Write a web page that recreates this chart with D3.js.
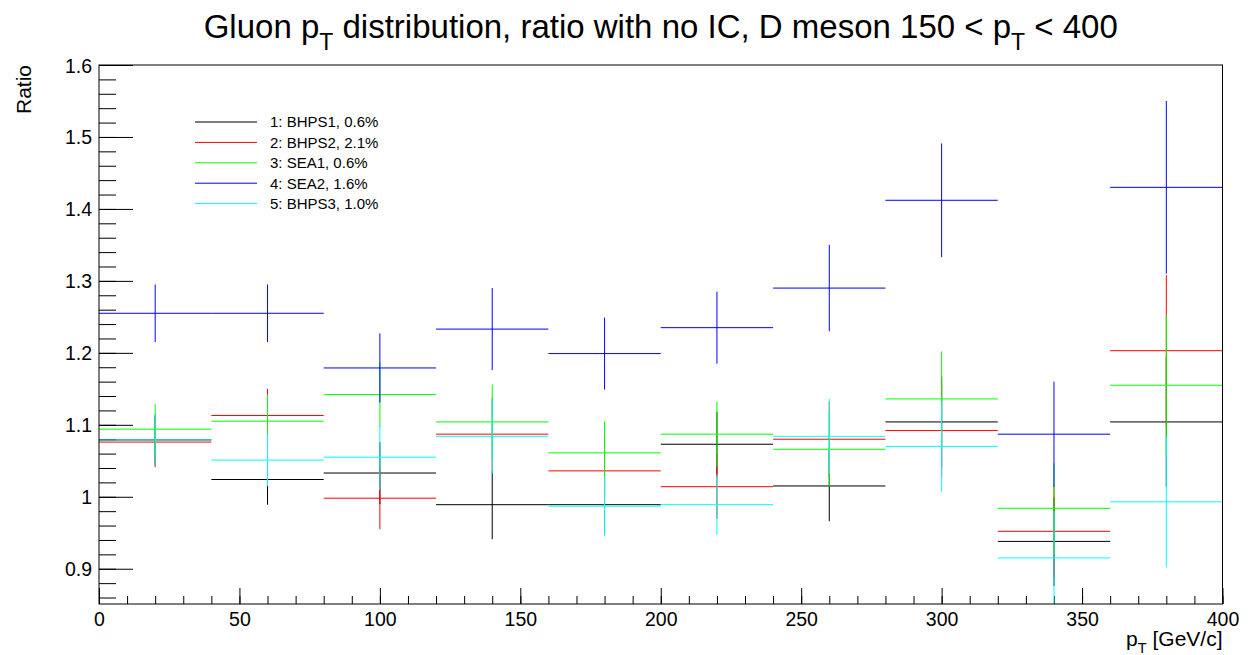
<!DOCTYPE html>
<html>
<head>
<meta charset="utf-8">
<script src="https://cdn.jsdelivr.net/npm/d3@7"></script>
<style>
  html, body { margin: 0; padding: 0; background: #fff; }
  svg { display: block; font-family: "Liberation Sans", Arial, Helvetica, sans-serif; }
</style>
</head>
<body>
<svg id="chart" width="1248" height="655"></svg>
<script>
// Bin edges in pT [GeV/c]
const ptEdges = [0, 40, 80, 120, 160, 200, 240, 280, 320, 360, 400];

// Ratio to the no-IC prediction per bin, with statistical errors
const ratioBHPS1 = [1.079, 1.024, 1.033, 0.989, 0.989, 1.073, 1.015, 1.104, 0.938, 1.104];
const errBHPS1   = [0.035, 0.035, 0.043, 0.048, 0.042, 0.045, 0.049, 0.063, 0.062, 0.090];

const ratioBHPS2 = [1.076, 1.113, 0.998, 1.087, 1.036, 1.014, 1.080, 1.092, 0.952, 1.203];
const errBHPS2   = [0.035, 0.037, 0.043, 0.050, 0.044, 0.045, 0.052, 0.064, 0.063, 0.105];

const ratioSEA1  = [1.094, 1.105, 1.142, 1.104, 1.061, 1.087, 1.066, 1.136, 0.984, 1.155];
const errSEA1    = [0.035, 0.037, 0.045, 0.052, 0.044, 0.045, 0.052, 0.066, 0.063, 0.097];

const ratioSEA2  = [1.255, 1.255, 1.179, 1.233, 1.199, 1.235, 1.290, 1.412, 1.087, 1.430];
const errSEA2    = [0.040, 0.040, 0.048, 0.057, 0.050, 0.050, 0.060, 0.079, 0.073, 0.120];

const ratioBHPS3 = [1.079, 1.051, 1.055, 1.084, 0.987, 0.989, 1.084, 1.070, 0.915, 0.993];
const errBHPS3   = [0.035, 0.036, 0.045, 0.052, 0.042, 0.042, 0.052, 0.063, 0.065, 0.091];

const seriesLabels = ["1: BHPS1, 0.6%", "2: BHPS2, 2.1%", "3: SEA1, 0.6%", "4: SEA2, 1.6%", "5: BHPS3, 1.0%"];
const seriesColors = ["#000000", "#ff0000", "#00ff00", "#0000ff", "#00ffff"];

const xTickValues = [0, 50, 100, 150, 200, 250, 300, 350, 400];
const xTickLabels = ["0", "50", "100", "150", "200", "250", "300", "350", "400"];
const yTickValues = [0.9, 1.0, 1.1, 1.2, 1.3, 1.4, 1.5, 1.6];
const yTickLabels = ["0.9", "1", "1.1", "1.2", "1.3", "1.4", "1.5", "1.6"];

const series = [
  { values: ratioBHPS1, errors: errBHPS1 },
  { values: ratioBHPS2, errors: errBHPS2 },
  { values: ratioSEA1,  errors: errSEA1 },
  { values: ratioSEA2,  errors: errSEA2 },
  { values: ratioBHPS3, errors: errBHPS3 }
];

// Frame geometry
const frame = { left: 99, right: 1222.5, top: 65, bottom: 604 };
const svg = d3.select("#chart");

const x = d3.scaleLinear().domain([0, 400]).range([frame.left, frame.right]);
const y = d3.scaleLinear().domain([0.851, 1.6]).range([frame.bottom, frame.top]);

// Clip region for the histogram marks
svg.append("defs").append("clipPath").attr("id", "frameClip")
  .append("rect")
  .attr("x", frame.left).attr("y", frame.top)
  .attr("width", frame.right - frame.left).attr("height", frame.bottom - frame.top);

// Minor and major ticks
const xMinor = d3.range(0, 401, 10);
const yMinor = d3.range(0.86, 1.6001, 0.02);

function addAxis(axis, transform) {
  const g = svg.append("g").attr("transform", transform).call(axis);
  g.select(".domain").remove();
  g.attr("font-family", null);
  g.selectAll(".tick line").attr("stroke", "#000").attr("stroke-width", 1);
  g.selectAll(".tick text").attr("fill", "#000");
  return g;
}

addAxis(d3.axisTop(x).tickValues(xMinor).tickSize(8).tickFormat(""),
        `translate(0,${frame.bottom})`);
addAxis(d3.axisTop(x).tickValues(xTickValues).tickSize(16).tickFormat(""),
        `translate(0,${frame.bottom})`);
addAxis(d3.axisRight(y).tickValues(yMinor).tickSize(17).tickFormat(""),
        `translate(${frame.left},0)`);
addAxis(d3.axisRight(y).tickValues(yTickValues).tickSize(34).tickFormat(""),
        `translate(${frame.left},0)`);

// Tick labels
const xLab = addAxis(d3.axisBottom(x).tickValues(xTickValues).tickSize(0).tickPadding(0)
        .tickFormat((d, i) => xTickLabels[i]), `translate(0,${frame.bottom})`);
xLab.selectAll(".tick text").attr("font-size", 19.5)
  .attr("dy", null).attr("y", 22);

const yLab = addAxis(d3.axisLeft(y).tickValues(yTickValues).tickSize(0).tickPadding(0)
        .tickFormat((d, i) => yTickLabels[i]), `translate(${frame.left},0)`);
yLab.selectAll(".tick text").attr("font-size", 19.5)
  .attr("x", -7).attr("dy", "0.36em");

// Histogram error-bar crosses, drawn in series order
const marks = svg.append("g").attr("clip-path", "url(#frameClip)");
series.forEach((s, si) => {
  const g = marks.append("g").attr("stroke", seriesColors[si]).attr("stroke-width", 1).attr("fill", "none");
  s.values.forEach((v, bi) => {
    const lo = ptEdges[bi], hi = ptEdges[bi + 1], c = (lo + hi) / 2;
    g.append("line")
      .attr("x1", x(lo)).attr("x2", x(hi))
      .attr("y1", y(v)).attr("y2", y(v));
    g.append("line")
      .attr("x1", x(c)).attr("x2", x(c))
      .attr("y1", y(v + s.errors[bi])).attr("y2", y(v - s.errors[bi]));
  });
});

// Frame border
svg.append("rect")
  .attr("x", frame.left).attr("y", frame.top)
  .attr("width", frame.right - frame.left).attr("height", frame.bottom - frame.top)
  .attr("fill", "none").attr("stroke", "#000").attr("stroke-width", 1);

// Legend
const legend = svg.append("g").attr("transform", "translate(195,122)");
seriesLabels.forEach((label, i) => {
  const row = legend.append("g").attr("transform", `translate(0,${i * 20.4})`);
  row.append("line").attr("x1", 0).attr("x2", 62).attr("y1", 0).attr("y2", 0)
    .attr("stroke", seriesColors[i]).attr("stroke-width", 1);
  row.append("text").attr("x", 75).attr("y", 0).attr("dy", "0.36em")
    .attr("font-size", 15).attr("fill", "#000").text(label);
});

// Title
const title = svg.append("text")
  .attr("x", (frame.left + frame.right) / 2).attr("y", 38)
  .attr("text-anchor", "middle").attr("font-size", 33).attr("fill", "#000");
title.append("tspan").text("Gluon p");
title.append("tspan").attr("font-size", 23).attr("dy", 12).text("T");
title.append("tspan").attr("dy", -12).text(" distribution, ratio with no IC, D meson 150 < p");
title.append("tspan").attr("font-size", 23).attr("dy", 12).text("T");
title.append("tspan").attr("dy", -12).text(" < 400");

// Axis titles
const xTitle = svg.append("text")
  .attr("x", frame.right).attr("y", 646)
  .attr("text-anchor", "end").attr("font-size", 21).attr("fill", "#000");
xTitle.append("tspan").text("p");
xTitle.append("tspan").attr("font-size", 14.5).attr("dy", 7).text("T");
xTitle.append("tspan").attr("dy", -7).text(" [GeV/c]");

svg.append("text")
  .attr("transform", `translate(31,${frame.top}) rotate(-90)`)
  .attr("text-anchor", "end").attr("font-size", 21).attr("fill", "#000")
  .text("Ratio");
</script>
</body>
</html>
